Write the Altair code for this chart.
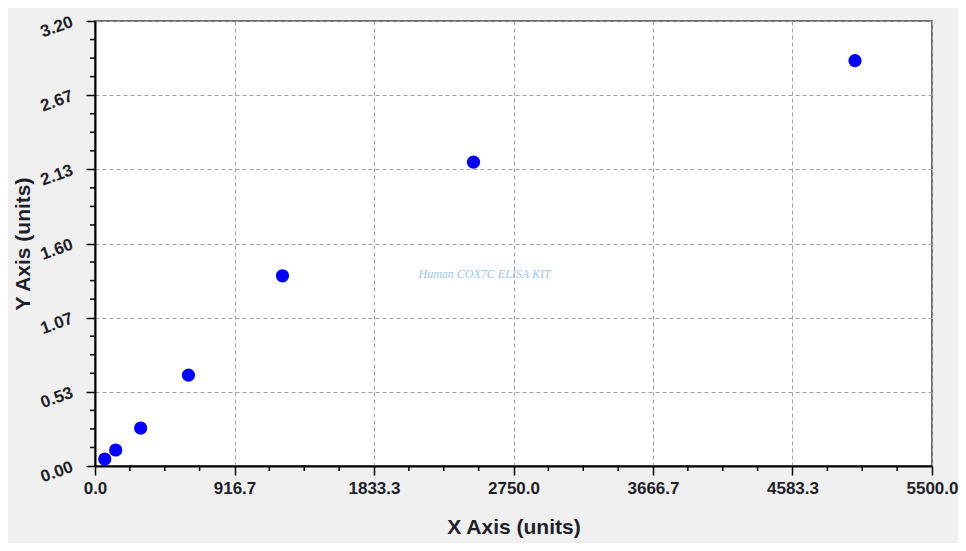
import altair as alt
import pandas as pd

# data
x_vals = [64, 136, 300, 614, 1232, 2487, 4994]
y_vals = [0.050, 0.115, 0.273, 0.654, 1.368, 2.185, 2.915]
x_max = 5500.0
y_max = 3.2
watermark = ["Human COX7C ELISA KIT"]
wm_x = [2560]
wm_y = [1.38]

x_step = x_max / 6
y_step = y_max / 6
x_major = [i * x_step for i in range(7)]
y_major = [i * y_step for i in range(7)]
x_minor = [i * x_step / 4 for i in range(25) if i % 4]
y_minor = [i * y_step / 4 for i in range(25) if i % 4]

df = pd.DataFrame({"x": x_vals, "y": y_vals})
wm = pd.DataFrame({"x": wm_x, "y": wm_y, "t": watermark})


def make_axis(ticks, fmt, title, **kw):
    return alt.Axis(
        values=ticks,
        format=fmt,
        tickSize=9,
        grid=True,
        gridDash=[4, 3],
        gridColor="#a0a0a0",
        gridWidth=1,
        domainColor="#000000",
        domainWidth=2,
        tickColor="#000000",
        tickWidth=1.5,
        labelFont="Liberation Sans",
        labelFontWeight="bold",
        labelFontSize=17,
        labelColor="#1e1e28",
        labelFlush=False,
        title=title,
        titleFont="Liberation Sans",
        titleFontWeight="bold",
        titleFontSize=21,
        titleColor="#1e1e28",
        labelOverlap=False,
        **kw,
    )


x_axis = make_axis(x_major, ".1f", "X Axis (units)", labelPadding=5, titlePadding=20)
y_axis = make_axis(y_major, ".2f", "Y Axis (units)", labelPadding=14, titlePadding=4,
                   labelAngle=340, labelAlign="right", labelBaseline="middle")

xs = alt.Scale(domain=[0, x_max], nice=False, zero=False)
ys = alt.Scale(domain=[0, y_max], nice=False, zero=False)

points = alt.Chart(df).mark_circle(size=175, color="#0000ff", opacity=1).encode(
    x=alt.X("x:Q", scale=xs, axis=x_axis),
    y=alt.Y("y:Q", scale=ys, axis=y_axis),
)

minor_x = alt.Chart(pd.DataFrame({"x": x_minor})).mark_rule(
    color="#000000", strokeWidth=1.5
).encode(x=alt.X("x:Q", scale=xs, axis=x_axis), y=alt.value(445), y2=alt.value(450))

minor_y = alt.Chart(pd.DataFrame({"y": y_minor})).mark_rule(
    color="#000000", strokeWidth=1.5
).encode(y=alt.Y("y:Q", scale=ys, axis=y_axis), x=alt.value(0), x2=alt.value(-5))

text = alt.Chart(wm).mark_text(
    font="Liberation Serif", fontStyle="italic", fontSize=12, color="#9cc6ec"
).encode(x=alt.X("x:Q", scale=xs, axis=x_axis), y=alt.Y("y:Q", scale=ys, axis=y_axis), text="t:N")

chart = alt.layer(points, minor_x, minor_y, text).properties(
    width=837,
    height=445,
    padding={"left": 87, "top": 13, "right": 26, "bottom": 77},
    autosize=alt.AutoSizeParams(type="none"),
    background="#f0f0f0",
).configure_view(fill="white", stroke="#404040", strokeWidth=1.5)

chart.save("out.html", embed_options={"renderer": "svg", "actions": False})
